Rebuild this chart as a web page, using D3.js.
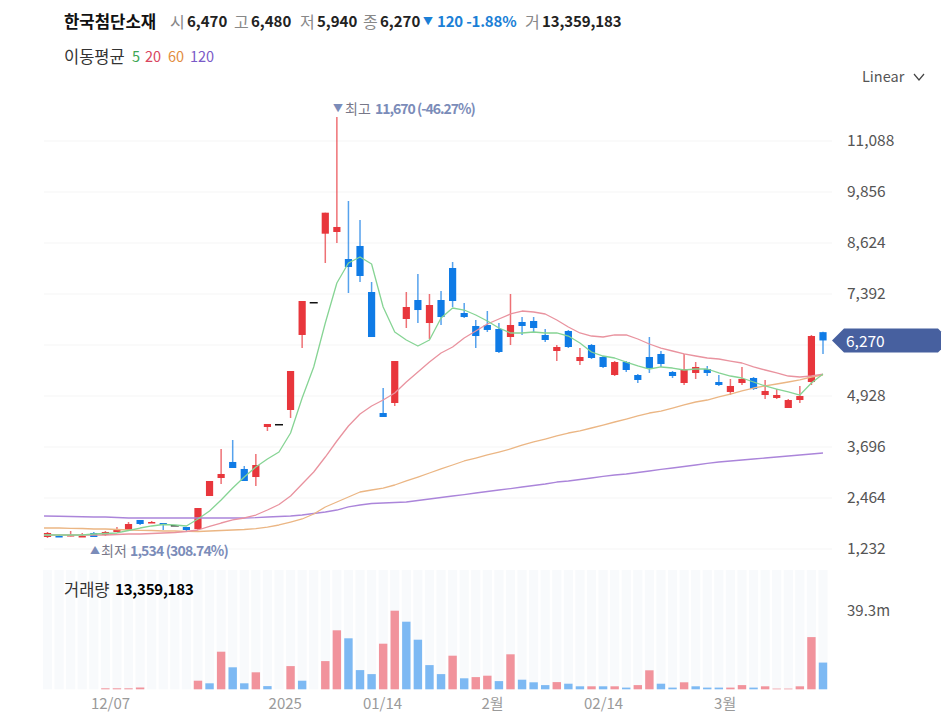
<!DOCTYPE html>
<html><head><meta charset="utf-8">
<script src="https://cdn.jsdelivr.net/npm/d3@7/dist/d3.min.js"></script>
<style>
html,body{margin:0;padding:0;background:#fff;overflow:hidden}
text{font-family:"Noto Sans CJK KR","Noto Sans",sans-serif}
</style></head><body><svg id="c" width="951" height="722"></svg>
<script>
const opens=[1522,1546,1546,1522,1619,1570,1643,1691,1933,1860,1860,1812,1763,1715,2512,2947,3334,3165,2971,4179,4252,4590,6402,7199,8849,8890,8237,8552,7440,4517,4759,6788,7247,6691,7247,8020,6933,6619,6643,6547,6353,6716,6740,6402,6015,6498,5773,6160,5870,5435,5749,5435,5870,5943,5508,5242,5484,5580,5266,5025,5242,5363,4952,4880,4638,4831,5266,6470];
const closes=[1619,1522,1570,1546,1522,1643,1715,1836,1836,1884,1812,1812,1691,2222,2875,3044,3189,2875,3261,4252,4252,5532,7223,7199,9356,9011,8044,7827,6353,4421,5773,7078,7005,7126,6836,7223,6836,6377,6523,5991,6643,6619,6571,6281,6112,6112,5870,5846,5629,5749,5556,5315,5604,5701,5411,5580,5629,5484,5194,5170,5339,5097,5049,4952,4831,4928,6377,6270];
const highs=[1643,1570,1667,1619,1643,1667,1763,1884,1836,1908,1860,1812,1691,2222,2875,3648,3865,3237,3527,4252,4252,5532,7223,7199,9356,11670,9639,9179,7682,5121,5773,7440,7875,7392,7464,8165,7175,6764,6981,6691,7392,6836,6836,6547,6160,6523,6087,6184,5894,5773,5773,5459,6353,6015,5532,5943,5749,5653,5435,5339,5629,5387,5315,5097,4856,5170,6402,6480];
const lows=[1498,1522,1540,1534,1570,1546,1691,1691,1812,1860,1691,1812,1667,1691,2512,2802,3189,2875,2754,4083,4252,4396,6087,7199,8141,8624,7416,7682,6353,4421,4686,6571,6691,6305,6643,7078,6812,6087,6474,5967,6160,6402,6474,6232,5773,6087,5677,5822,5604,5411,5508,5242,5484,5629,5363,5194,5339,5411,5170,4952,5194,5073,4856,4856,4638,4759,5194,5940];
const ma5=[1570,1570,1570,1570,1594,1606,1619,1679,1739,1788,1824,1812,1788,1957,2150,2416,2706,2971,3213,3406,3575,4034,4880,5629,6691,7658,8141,8286,8117,7078,6474,6281,6136,6281,6812,7054,7005,6885,6740,6571,6450,6450,6474,6450,6450,6377,6208,5991,5894,5846,5749,5653,5580,5629,5604,5556,5580,5580,5484,5411,5363,5266,5170,5097,5025,4952,5242,5459];
const ma20=[1570,1570,1570,1570,1570,1570,1582,1594,1594,1606,1619,1631,1655,1691,1776,1860,1933,1981,2053,2174,2307,2512,2802,3092,3454,3841,4203,4493,4686,4831,5000,5266,5508,5749,5967,6112,6329,6498,6667,6788,6909,6981,6957,6909,6764,6595,6450,6377,6353,6402,6402,6305,6184,6087,6015,5943,5894,5846,5822,5773,5725,5629,5556,5484,5411,5387,5411,5459];
const ma60=[1739,1739,1732,1727,1715,1715,1703,1691,1684,1679,1667,1667,1660,1655,1667,1679,1691,1703,1722,1763,1812,1884,1957,2077,2247,2367,2488,2609,2657,2705,2778,2875,2971,3068,3165,3261,3358,3430,3503,3575,3648,3744,3817,3889,3962,4034,4083,4155,4227,4300,4372,4445,4517,4565,4638,4711,4783,4831,4904,4976,5049,5121,5170,5218,5266,5315,5387,5435];
const ma120=[2029,2023,2017,2011,2005,2005,1993,1981,1981,1981,1981,1981,1981,1981,1981,1981,1981,1981,1988,2005,2017,2029,2053,2090,2126,2174,2247,2295,2331,2343,2355,2367,2404,2440,2476,2512,2548,2585,2621,2657,2693,2730,2766,2802,2850,2875,2911,2947,2984,3020,3044,3080,3116,3153,3189,3225,3261,3298,3334,3358,3382,3406,3430,3454,3479,3503,3527,3551];
const volumes=[0,0,0,0,0,0.5,0.5,0.5,0.9,0,0,0,0,4.3,3,18.8,11,3,8.5,1.6,0,11.6,4.3,0,14.1,29.5,25.5,9.6,7.6,22.8,39.3,33.8,24.8,12.1,7.6,16.8,5.5,6.1,6.8,4.1,17.5,4.8,3.5,2.1,3.6,2.8,1.5,1.5,1.5,1.5,0.85,2.1,9.5,2.8,0.85,3.5,1.5,0.85,0.85,0.85,2.1,0.85,1.5,0.35,0.35,1.5,26.1,13.36];
const volumeUp=[1,1,1,1,1,1,1,1,1,1,1,1,1,1,0,1,0,0,1,0,1,1,0,1,1,1,0,0,0,1,1,0,0,0,0,1,0,1,1,0,1,0,0,0,1,0,0,1,0,1,0,1,1,0,0,1,0,0,0,1,1,0,1,1,1,1,1,0];
const priceTicks=[1232,2464,3696,4928,7392,8624,9856,11088];
const volumeTicks=[39.3];
const dateLabels=["12/07","2025","01/14","2월","02/14","3월"];
const dateIndexes=[5.4,20.5,28.9,38.4,48,58.5];
const header=[["시","6,470"],["고","6,480"],["저","5,940"],["종","6,270"]];
const maLabels=["5","20","60","120"];

const RED="#e8363c",BLUE="#0f7be6";
const svg=d3.select("#c");
const x=d3.scaleLinear().domain([0,opens.length-1]).range([47.5,823]);
const y=d3.scaleLinear().domain([1232,11088]).range([549,141]);
const yv=d3.scaleLinear().domain([0,39.3]).range([689.3,610.7]);
const idx=d3.range(opens.length);
const T=(s,px,py,o={})=>svg.append("text").attr("x",px).attr("y",py).text(s)
  .attr("font-size",o.size||15).attr("font-weight",o.w||400).attr("fill",o.c||"#222")
  .attr("dominant-baseline","central").attr("text-anchor",o.a||"start")
  .attr("font-family",o.f||null).attr("letter-spacing",o.ls||null);
const DIG='"Noto Sans",sans-serif';

// volume background stripes
svg.append("g").selectAll("rect").data(idx).join("rect")
  .attr("x",i=>x(i)-4.6).attr("width",9.2).attr("y",570).attr("height",119.3).attr("fill","#f8fafc");

// grid + price axis
svg.append("g").selectAll("line").data(priceTicks.concat([6160])).join("line")
  .attr("x1",44).attr("x2",832).attr("y1",d=>y(d)).attr("y2",d=>y(d)).attr("stroke","#f5f5f5");
const ax=svg.append("g").attr("transform","translate(832,0)")
  .call(d3.axisRight(y).tickValues(priceTicks).tickSize(0).tickPadding(15).tickFormat(d3.format(",")));
ax.select(".domain").remove();
ax.selectAll("text").attr("font-size",15.5).attr("fill","#555").attr("font-family",DIG);

// volume bars and axis
svg.append("g").selectAll("rect").data(idx).join("rect")
  .attr("x",i=>x(i)-4.2).attr("width",8.4)
  .attr("y",i=>yv(volumes[i])).attr("height",i=>yv(0)-yv(volumes[i]))
  .attr("fill",i=>volumeUp[i]?"#f1939c":"#7db9f3");
const vax=svg.append("g").attr("transform","translate(832,0)")
  .call(d3.axisRight(yv).tickValues(volumeTicks).tickSize(0).tickPadding(15).tickFormat(d=>d+"m"));
vax.select(".domain").remove();
vax.selectAll("text").attr("font-size",15).attr("fill","#555").attr("font-family",DIG);

// date axis
const dax=svg.append("g").attr("transform","translate(0,696)")
  .call(d3.axisBottom(x).tickValues(dateIndexes).tickSize(0).tickPadding(2).tickFormat((d,i)=>dateLabels[i]));
dax.select(".domain").remove();
dax.selectAll("text").attr("font-size",15).attr("fill","#9a9a9a");

// candles
const candleColor=i=>closes[i]===opens[i]?"#111":(closes[i]>opens[i]?RED:BLUE);
const g=svg.append("g");
g.selectAll("line").data(idx.filter(i=>highs[i]!==lows[i])).join("line")
  .attr("x1",i=>x(i)).attr("x2",i=>x(i)).attr("y1",i=>y(highs[i])).attr("y2",i=>y(lows[i]))
  .attr("stroke",candleColor).attr("stroke-width",1.5).attr("opacity",.7);
g.selectAll("rect").data(idx).join("rect")
  .attr("x",i=>x(i)-(closes[i]===opens[i]?4:3.6)).attr("width",i=>closes[i]===opens[i]?8:7.2)
  .attr("y",i=>y(Math.max(opens[i],closes[i])))
  .attr("height",i=>Math.max(1.5,Math.abs(y(opens[i])-y(closes[i]))))
  .attr("fill",candleColor);

// moving averages
const line=d3.line().x((d,i)=>x(i===0?-0.3:i)).y(d=>y(d));
[[ma120,"#ab85da"],[ma60,"#ebb684"],[ma20,"#e9939f"],[ma5,"#86d494"]].forEach(([s,c])=>{
  svg.append("path").attr("d",line(s)).attr("fill","none").attr("stroke",c).attr("stroke-width",1.3).attr("stroke-linejoin","round");
});

// current-price tag
const yc=y(closes[closes.length-1]);
svg.append("path").attr("d",d3.line()([[832,yc],[844,yc-12],[938,yc-12],[941,yc-9],[941,yc+9],[938,yc+12],[844,yc+12]])+"Z").attr("fill","#47609f");
T("6,270",846,yc,{size:15.5,c:"#fff",f:DIG});

// annotations
const N="#7b8cb9";
T("▼",333,y(11670)-9,{size:10,c:N});
T("최고",345,y(11670)-9,{size:14,c:"#778"});
T("11,670 (-46.27%)",375,y(11670)-9,{size:14,w:700,c:N,f:DIG,ls:-1});
T("▲",90,y(1232)+.5,{size:10,c:N});
T("최저",101,y(1232)+.5,{size:14,c:"#778"});
T("1,534 (308.74%)",130,y(1232)+.5,{size:14,w:700,c:N,f:DIG,ls:-.85});

// header
T("한국첨단소재",64,20.5,{size:16.7,w:700,c:"#111"});
const hx=[170,234,300,363];
header.forEach((h,i)=>{T(h[0],hx[i],20.5,{size:16,c:"#888"});T(h[1],hx[i]+17,20.5,{size:15,w:700,f:DIG,ls:0});});
T("▼",423,20.5,{size:10,c:"#1b7fd6"});
T("120 -1.88%",437,20.5,{size:15,w:700,c:"#1b7fd6",f:DIG,ls:-.2});
T("거",525,20.5,{size:16,c:"#888"});
T("13,359,183",542,20.5,{size:15,w:700,f:DIG,ls:-.1});
T("이동평균",64,55.5,{size:16.5,c:"#333"});
const maX=[132,145,168,190],maC=["#3da755","#d94560","#e28c3e","#7a5ac8"];
maLabels.forEach((l,i)=>T(l,maX[i],55.5,{size:14.5,c:maC[i],f:DIG}));
T("Linear",862,75.5,{size:14.5,c:"#555",f:DIG});
svg.append("path").attr("d",d3.line()([[914,74],[919,80],[924,74]])).attr("fill","none").attr("stroke","#444").attr("stroke-width",1.2);
T("거래량",64,588.5,{size:16.5,c:"#333"});
T("13,359,183",115,588.5,{size:15,w:700,c:"#000",f:DIG,ls:-.2});
</script></body></html>
